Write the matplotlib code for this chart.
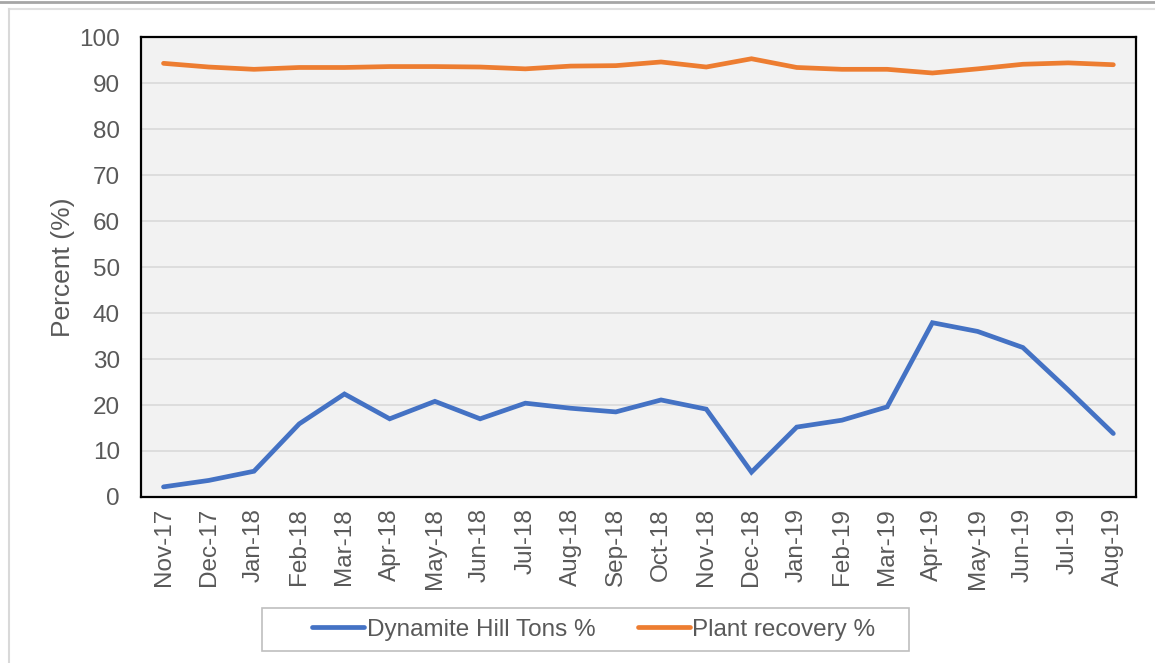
import matplotlib
matplotlib.use('Agg')
import matplotlib.pyplot as plt
from matplotlib.lines import Line2D
from matplotlib.patches import Rectangle
import numpy as np

# 月份
months = ['Nov-17', 'Dec-17', 'Jan-18', 'Feb-18', 'Mar-18', 'Apr-18', 'May-18',
          'Jun-18', 'Jul-18', 'Aug-18', 'Sep-18', 'Oct-18', 'Nov-18', 'Dec-18',
          'Jan-19', 'Feb-19', 'Mar-19', 'Apr-19', 'May-19', 'Jun-19', 'Jul-19',
          'Aug-19']

# Dynamite Hill 吨数占比
dh_tons = [2.2, 3.6, 5.6, 15.9, 22.4, 17.0, 20.8, 17.0, 20.4, 19.3, 18.5,
           21.1, 19.1, 5.4, 15.2, 16.7, 19.6, 37.9, 36.0, 32.5, 23.3, 13.8]

# 工厂回收率
plant_rec = [94.3, 93.5, 93.0, 93.4, 93.4, 93.6, 93.6, 93.5, 93.1, 93.7, 93.8,
             94.6, 93.5, 95.3, 93.4, 93.0, 93.0, 92.2, 93.1, 94.1, 94.4, 94.0]

plt.rcParams['font.family'] = ['Liberation Sans', 'DejaVu Sans']
txt_color = '#595959'

fig = plt.figure(figsize=(11.55, 6.63), dpi=100)
ax = fig.add_axes([0.122, 0.2504, 0.8615, 0.6936])

# 外框
fig.add_artist(Line2D([0, 1], [0.9965, 0.9965], color='#A6A6A6', lw=2,
                      transform=fig.transFigure))
fig.add_artist(Line2D([0.0075, 1], [0.987, 0.987], color='#E0E0E0', lw=1.5,
                      transform=fig.transFigure))
fig.add_artist(Line2D([0.0075, 0.0075], [0, 0.987], color='#D9D9D9', lw=1.5,
                      transform=fig.transFigure))

x = np.arange(len(months))
ax.plot(x, dh_tons, color='#4472C4', lw=3.4, solid_capstyle='round',
        solid_joinstyle='miter', label='Dynamite Hill Tons %')
ax.plot(x, plant_rec, color='#ED7D31', lw=3.4, solid_capstyle='round',
        solid_joinstyle='miter', label='Plant recovery %')

ax.set_facecolor('#F2F2F2')
ax.set_xlim(-0.5, len(months) - 0.5)
ax.set_ylim(0, 100)
ax.set_yticks(np.arange(0, 101, 10))
ax.yaxis.grid(True, color='#D9D9D9', lw=1.2)
ax.set_axisbelow(True)

ax.set_xticks(x)
ax.set_xticklabels(months, rotation=90)
ax.tick_params(length=0, labelsize=17.5, colors=txt_color)
ax.tick_params(axis='x', pad=8)
ax.tick_params(axis='y', pad=15)

for s in ax.spines.values():
    s.set_color('black')
    s.set_linewidth(1.6)

ax.set_ylabel('Percent (%)', fontsize=19, color=txt_color, labelpad=3)

# 图例（边框单独画）
leg = fig.legend(loc='center', bbox_to_anchor=(0.514, 0.05), ncol=2,
                 fontsize=17.5, frameon=False, handlelength=2.15,
                 handletextpad=0.1, columnspacing=1.75)
for t in leg.get_texts():
    t.set_color(txt_color)
fig.add_artist(Rectangle((0.2268, 0.0181), 0.5602, 0.0649,
                         transform=fig.transFigure, fill=False,
                         edgecolor='#BFBFBF', lw=1.2))

plt.savefig('out.png', dpi=100)
plt.close()
